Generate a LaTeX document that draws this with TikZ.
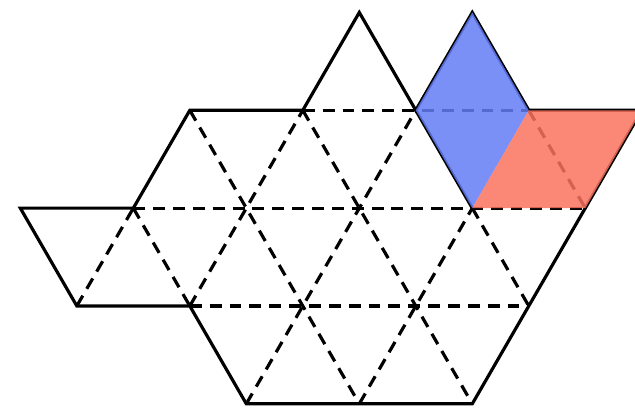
\documentclass[tikz,border=0pt]{standalone}
\definecolor{faceblue}{RGB}{100,125,245}
\definecolor{facered}{RGB}{250,115,95}
\begin{document}
\begin{tikzpicture}[x=1cm,y=0.866cm,thick]
	\useasboundingbox (-2.18,-0.052) rectangle (3.44,4.127);
	% outline of the net
	\draw (-2,2)--(-1,2)--(-0.5,3)--(0.5,3)--(1,4)--(1.5,3)--(2,4)--(2.5,3)--(3.5,3)--(3,2)--(2.5,1)--(2,0)--(0,0)--(-0.5,1)--(-1.5,1)--cycle;
	\draw (1.5,3)--(2,2);
	% folds
	\draw[densely dashed] (0.5,3)--(2.5,3);
	\draw[densely dashed] (-1,2)--(3,2);
	\draw[densely dashed] (-0.5,1)--(2.5,1);
	\draw[densely dashed] (-1.5,1)--(-1,2);
	\draw[densely dashed] (-0.5,1)--(0.5,3);
	\draw[densely dashed] (0,0)--(1.5,3);
	\draw[densely dashed] (1,0)--(2,2);
	\draw[densely dashed] (-1,2)--(-0.5,1);
	\draw[densely dashed] (-0.5,3)--(1,0);
	\draw[densely dashed] (0.5,3)--(2,0);
	\draw[densely dashed] (2,2)--(2.5,1);
	\draw[densely dashed] (2.5,3)--(3,2);
	% coloured faces
	\fill[faceblue,opacity=.85] (1.5,3)--(2,4)--(2.5,3)--(2,2)--cycle;
	\fill[facered,opacity=.85] (2.5,3)--(3.5,3)--(3,2)--(2,2)--cycle;
\end{tikzpicture}
\end{document}
